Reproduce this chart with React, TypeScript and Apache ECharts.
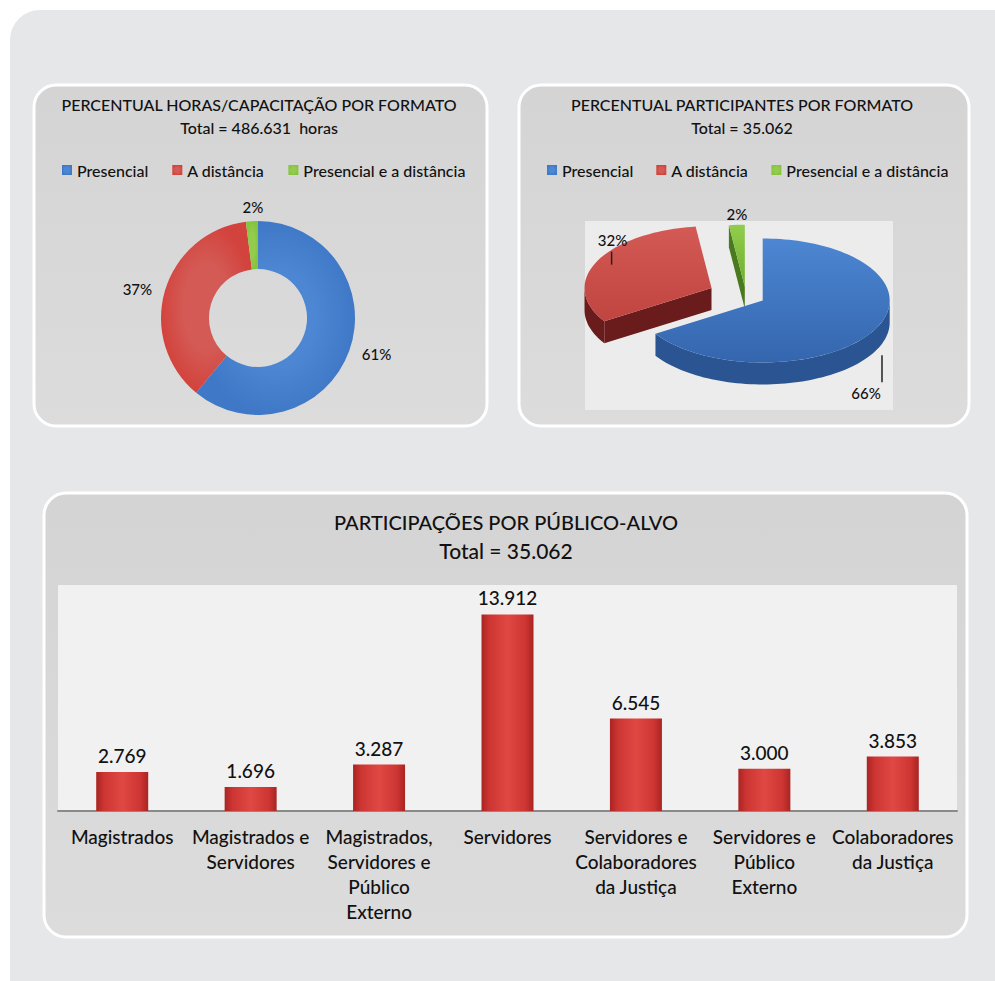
import React, { useEffect, useRef } from 'react';
import * as echarts from 'echarts';

// ---------- data ----------
const formatNames = ['Presencial', 'A distância', 'Presencial e a distância'];
const hoursPercent = [61, 37, 2];
const participantsPercent = [66, 32, 2];

const audienceCategories = [
  'Magistrados',
  'Magistrados e\nServidores',
  'Magistrados,\nServidores e\nPúblico\nExterno',
  'Servidores',
  'Servidores e\nColaboradores\nda Justiça',
  'Servidores e\nPúblico\nExterno',
  'Colaboradores\nda Justiça',
];
const audienceValues = [2769, 1696, 3287, 13912, 6545, 3000, 3853];

const hoursTitle = 'PERCENTUAL HORAS/CAPACITAÇÃO POR FORMATO';
const hoursTotal = 'Total = 486.631  horas';
const partTitle = 'PERCENTUAL PARTICIPANTES POR FORMATO';
const partTotal = 'Total = 35.062';
const audTitle = 'PARTICIPAÇÕES POR PÚBLICO-ALVO';
const audTotal = 'Total = 35.062';

// ---------- styles ----------
const FONT = 'Lato, "Open Sans", "DejaVu Sans", sans-serif';
const FW = 500;
const TXT = '#111111';
const formatColors = ['#3f78c6', '#d3433d', '#86c440'];
const formatTop = [
  ['#4d86d2', '#3466ae'],
  ['#d45a55', '#c0443f'],
  ['#92cc4c', '#6fae2e'],
];
const formatDark = ['#2a5592', '#6a1b1b', '#4a7a1e'];
const explode = [0.15, 0.3, 0.15];

const fmtThousands = (v: number) => String(v).replace(/\B(?=(\d{3})+(?!\d))/g, '.');

export default function App() {
  const ref = useRef<HTMLDivElement>(null);

  useEffect(() => {
    if (!ref.current) return;
    const chart = echarts.init(ref.current, undefined, { renderer: 'svg' });

    const pieC = { x: 746, y: 296 };
    const rx = 127;
    const ry = 62;
    const depth = 22;
    const total = participantsPercent.reduce((a, b) => a + b, 0);
    const starts: number[] = [];
    let acc = 0;
    participantsPercent.forEach((v) => {
      starts.push((acc / total) * Math.PI * 2);
      acc += v;
    });

    const panelFill = new echarts.graphic.LinearGradient(0, 0, 0, 1, [
      { offset: 0, color: '#d4d4d4' },
      { offset: 1, color: '#dcdcdc' },
    ]);

    const panel = (x: number, y: number, w: number, h: number) => ({
      type: 'rect',
      shape: { x, y, width: w, height: h, r: 22 },
      style: { fill: panelFill, stroke: '#ffffff', lineWidth: 3 },
      z: -5,
      silent: true,
    });

    const txt = (text: string, x: number, y: number, size: number) => ({
      type: 'text',
      x,
      y,
      style: {
        text,
        fill: TXT,
        fontSize: size,
        fontFamily: FONT,
        fontWeight: FW,
        align: 'center',
        verticalAlign: 'middle',
      },
      z: 5,
    });

    const labelStyle = (text: string) => ({
      text,
      fill: TXT,
      fontSize: 15,
      fontFamily: FONT,
      fontWeight: FW,
      align: 'center',
      verticalAlign: 'middle',
    });

    const renderPie3D = (params: any, api: any) => {
      const i = params.dataIndex;
      const v = api.value(0) as number;
      const a0 = starts[i];
      const a1 = a0 + (v / total) * Math.PI * 2;
      const mid = (a0 + a1) / 2;
      const ox = pieC.x + explode[i] * rx * Math.sin(mid);
      const oy = pieC.y - explode[i] * ry * Math.cos(mid);
      const pt = (a: number, dz = 0) => [ox + rx * Math.sin(a), oy - ry * Math.cos(a) + dz];
      const arc = (s: number, e: number, dz = 0) => {
        const n = Math.max(2, Math.ceil((e - s) / (Math.PI / 90)));
        const pts: number[][] = [];
        for (let k = 0; k <= n; k++) pts.push(pt(s + ((e - s) * k) / n, dz));
        return pts;
      };
      const baseZ = Math.round((1 - Math.cos(mid)) * 10) * 5;
      const children: any[] = [];
      const dark = formatDark[i];
      if (Math.sin(a0) < -0.01) {
        children.push({
          type: 'polygon',
          z2: baseZ,
          shape: { points: [[ox, oy], pt(a0), pt(a0, depth), [ox, oy + depth]] },
          style: { fill: dark },
        });
      }
      if (Math.sin(a1) > 0.01) {
        children.push({
          type: 'polygon',
          z2: baseZ,
          shape: { points: [[ox, oy], pt(a1), pt(a1, depth), [ox, oy + depth]] },
          style: { fill: dark },
        });
      }
      const s = Math.max(a0, Math.PI / 2);
      const e = Math.min(a1, (3 * Math.PI) / 2);
      if (e > s) {
        const top = arc(s, e);
        const bot = arc(s, e, depth).reverse();
        children.push({
          type: 'polygon',
          z2: baseZ + 1,
          shape: { points: top.concat(bot) },
          style: { fill: dark },
        });
      }
      children.push({
        type: 'polygon',
        z2: baseZ + 2,
        shape: { points: [[ox, oy], ...arc(a0, a1)] },
        style: {
          fill: new echarts.graphic.LinearGradient(0, 0, 0, 1, [
            { offset: 0, color: formatTop[i][0] },
            { offset: 1, color: formatTop[i][1] },
          ]),
        },
      });
      // label
      const ep = pt(mid);
      const front = -Math.cos(mid) > 0;
      const hasLine = v / total > 0.05;
      if (front) {
        const y0 = ep[1] + depth + 3;
        if (hasLine)
          children.push({
            type: 'line',
            z2: 60,
            shape: { x1: ep[0] + 8, y1: y0, x2: ep[0] + 8, y2: y0 + 27 },
            style: { stroke: '#222', lineWidth: 1.5 },
          });
        children.push({ type: 'text', z2: 61, x: ep[0] - 8, y: y0 + 38, style: labelStyle(v + '%') });
      } else {
        if (hasLine)
          children.push({
            type: 'line',
            z2: 60,
            shape: { x1: ep[0] + 15, y1: ep[1] + 3, x2: ep[0] + 15, y2: ep[1] - 10 },
            style: { stroke: '#222', lineWidth: 1.5 },
          });
        children.push({
          type: 'text',
          z2: 61,
          x: hasLine ? ep[0] + 16 : ep[0],
          y: hasLine ? ep[1] - 22 : ep[1] - 11,
          style: labelStyle(v + '%'),
        });
      }
      return { type: 'group', children };
    };

    const barGradient = new echarts.graphic.LinearGradient(0, 0, 1, 0, [
      { offset: 0, color: '#a92422' },
      { offset: 0.15, color: '#cc3532' },
      { offset: 0.5, color: '#e04843' },
      { offset: 0.85, color: '#cc3532' },
      { offset: 1, color: '#a92422' },
    ]);

    const legendCommon = {
      data: formatNames,
      top: 157,
      icon: 'rect',
      itemWidth: 10,
      itemHeight: 10,
      textStyle: { fontSize: 16, color: TXT, fontFamily: FONT, fontWeight: FW },
      selectedMode: false,
    };

    const option: any = {
      animation: false,
      backgroundColor: '#ffffff',
      textStyle: { fontFamily: FONT },
      graphic: [
        {
          type: 'rect',
          shape: { x: 10, y: 10, width: 1020, height: 1020, r: 30 },
          style: { fill: '#e6e7e8' },
          z: -10,
          silent: true,
        },
        panel(34, 85, 453, 341),
        panel(519, 85, 450, 341),
        panel(44, 493, 923, 444),
        {
          type: 'rect',
          shape: { x: 585, y: 221, width: 308, height: 189 },
          style: { fill: '#ececec' },
          z: -4,
          silent: true,
        },
        {
          type: 'rect',
          shape: { x: 58, y: 585, width: 899, height: 226 },
          style: { fill: '#f1f1f1' },
          z: -4,
          silent: true,
        },
        txt(hoursTitle, 259, 104, 16),
        txt(hoursTotal, 259, 127, 16),
        txt(partTitle, 742, 104, 16),
        txt(partTotal, 742, 127, 16),
        txt(audTitle, 506, 522, 20),
        txt(audTotal, 506, 550, 21),
      ],
      legend: [
        { ...legendCommon, left: 57, itemGap: 24 },
        { ...legendCommon, left: 542, itemGap: 23 },
      ],
      grid: { left: 58, width: 899, top: 585, height: 226 },
      xAxis: {
        type: 'category',
        data: audienceCategories,
        axisLine: { lineStyle: { color: '#8a8a8a', width: 2 } },
        axisTick: { show: false },
        axisLabel: {
          interval: 0,
          fontSize: 19,
          lineHeight: 25,
          margin: 13,
          color: TXT,
          fontFamily: FONT,
          fontWeight: FW,
        },
      },
      yAxis: {
        type: 'value',
        min: 0,
        max: 16000,
        show: false,
        splitLine: { show: false },
      },
      series: [
        {
          type: 'pie',
          name: 'Horas',
          center: [258, 318],
          radius: [49, 97],
          startAngle: 90,
          clockwise: true,
          avoidLabelOverlap: false,
          data: formatNames.map((n, i) => ({
            name: n,
            value: hoursPercent[i],
            itemStyle: {
              color: new echarts.graphic.RadialGradient(0.5, 0.5, 0.5, [
                { offset: 0.5, color: formatTop[i][0] },
                { offset: 1, color: formatColors[i] },
              ]),
            },
          })),
          label: {
            position: 'outside',
            formatter: '{c}%',
            fontSize: 15,
            color: TXT,
            fontFamily: FONT,
            fontWeight: FW,
          },
          labelLine: { show: false, length: 8, length2: 0 },
          labelLayout: (p: any) => (p.dataIndex === 2 ? { dx: 17, dy: -6 } : {}),
          emphasis: { disabled: true },
        },
        {
          type: 'custom',
          name: 'Participantes',
          coordinateSystem: 'none',
          renderItem: renderPie3D,
          data: participantsPercent.map((v, i) => ({ name: formatNames[i] + ' ', value: [v] })),
          silent: true,
        },
        {
          type: 'bar',
          name: 'Participações',
          data: audienceValues,
          barWidth: 52,
          itemStyle: { color: barGradient },
          label: {
            show: true,
            position: 'top',
            distance: 7,
            fontSize: 19,
            color: TXT,
            fontFamily: FONT,
            fontWeight: FW,
            formatter: (p: any) => fmtThousands(p.value),
          },
          emphasis: { disabled: true },
        },
      ],
    };

    chart.setOption(option);
    return () => chart.dispose();
  }, []);

  return (
    <div
      ref={ref}
      style={{ position: 'absolute', left: 0, top: 0, width: 995, height: 981 }}
    />
  );
}
